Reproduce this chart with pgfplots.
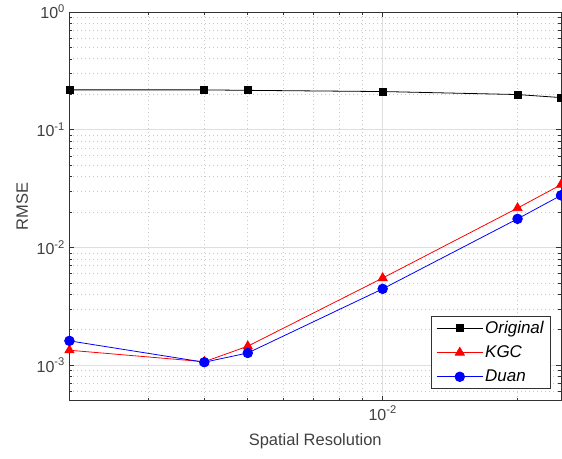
\documentclass[border=0pt]{standalone}
\usepackage{fontspec}
\setmainfont{Liberation Sans}
\usepackage{pgfplots}
\pgfplotsset{compat=1.18}
\definecolor{axgray}{RGB}{50,50,50}
\definecolor{txtgray}{RGB}{64,64,64}
\definecolor{gridmaj}{RGB}{222,222,222}
\definecolor{gridmin}{RGB}{200,200,200}
\begin{document}
\begin{tikzpicture}
\begin{axis}[
  scale only axis, width=492pt, height=389pt,
  xmode=log, ymode=log,
  xmin=0.002, xmax=0.025, ymin=5e-4, ymax=1,
  axis line style={axgray, line width=0.8pt},
  tick style={axgray, line width=0.6pt},
  tick align=inside,
  major tick length=5pt, minor tick length=3pt,
  grid=both,
  major grid style={gridmaj, line width=0.8pt},
  minor grid style={gridmin, line width=0.7pt, dash pattern=on 1pt off 3pt},
  xtick={0.01},
  minor xtick={0.002,0.003,0.004,0.005,0.006,0.007,0.008,0.009,0.02},
  ytick={1e-3,1e-2,1e-1,1},
  minor ytick={5e-4,6e-4,7e-4,8e-4,9e-4,2e-3,3e-3,4e-3,5e-3,6e-3,7e-3,8e-3,9e-3,2e-2,3e-2,4e-2,5e-2,6e-2,7e-2,8e-2,9e-2,0.2,0.3,0.4,0.5,0.6,0.7,0.8,0.9},
  yticklabel={10\textsuperscript{\pgfmathparse{int(round(\tick/2.302585))}\pgfmathresult}},
  xticklabel={10\textsuperscript{\pgfmathparse{int(round(\tick/2.302585))}\pgfmathresult}},
  ticklabel style={font=\fontsize{16}{19}\selectfont, text=txtgray},
  xticklabel style={yshift=-2pt},
  yticklabel style={xshift=-1pt},
  label style={font=\fontsize{16.5}{19}\selectfont, text=txtgray},
  xlabel={Spatial Resolution},
  ylabel={RMSE},
  xlabel style={at={(axis description cs:0.5,-0.105)}, anchor=center},
  ylabel style={at={(axis description cs:-0.096,0.5)}, anchor=center},
  legend style={at={(1,0)}, anchor=south east, xshift=-10pt, yshift=12pt,
    draw=axgray, line width=0.6pt, fill=white,
    font=\fontsize{17}{20}\selectfont\itshape, text=black,
    row sep=7pt, inner xsep=5pt, inner ysep=3pt},
  legend cell align=left,
  legend image code/.code={\draw[mark repeat=2,mark phase=2] plot coordinates {(0pt,0pt) (23pt,0pt) (46pt,0pt)};},
]
\addplot[black, line width=0.8pt, mark=square*, mark size=3.5pt] coordinates {
  (0.002,0.218) (0.004,0.218) (0.005,0.216) (0.01,0.211) (0.02,0.199) (0.025,0.1875)};
\addlegendentry{Original}
\addplot[red, line width=0.8pt, mark=triangle*, mark size=5.2pt] coordinates {
  (0.002,0.00134) (0.004,0.00107) (0.005,0.00145) (0.01,0.0055) (0.02,0.0216) (0.025,0.0341)};
\addlegendentry{KGC}
\addplot[blue, line width=0.8pt, mark=*, mark size=4.8pt] coordinates {
  (0.002,0.00161) (0.004,0.00106) (0.005,0.00127) (0.01,0.00445) (0.02,0.0175) (0.025,0.0277)};
\addlegendentry{Duan}
\coordinate (bl) at (rel axis cs:0,0);
\coordinate (tr) at (rel axis cs:1,1);
\end{axis}
\pgfresetboundingbox
\path[use as bounding box] ([xshift=-69.5pt,yshift=-58pt]bl) rectangle ([xshift=1pt,yshift=12pt]tr);
\end{tikzpicture}
\end{document}
